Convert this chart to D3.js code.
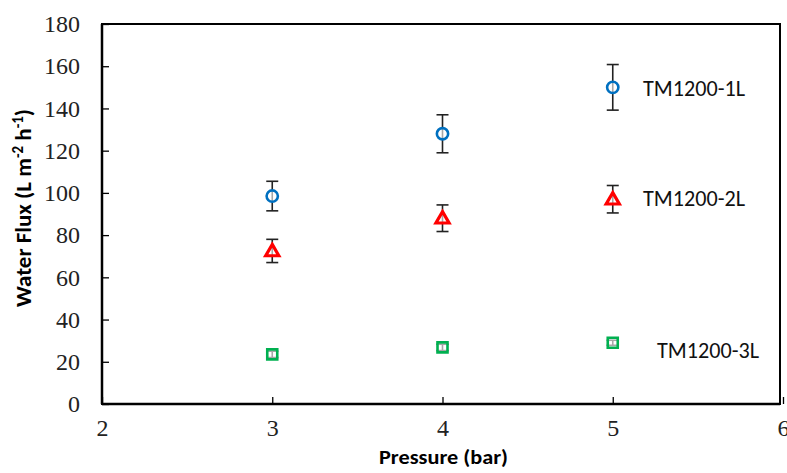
<!DOCTYPE html>
<html>
<head>
<meta charset="utf-8">
<script src="https://cdn.jsdelivr.net/npm/d3@7"></script>
<style>
  body { margin: 0; background: #fff; }
  svg { display: block; }
</style>
</head>
<body>
<div id="chart"></div>
<script>
// data
const pressures = [3, 4, 5];
const seriesNames = ["TM1200-1L", "TM1200-2L", "TM1200-3L"];
const flux1L = [98.5, 128, 150];
const err1L = [7, 9, 10.8];
const flux2L = [72.5, 88, 97];
const err2L = [5.5, 6.3, 6.5];
const flux3L = [23.5, 26.8, 29];
const err3L = [1.5, 1.5, 1.2];
const xTicks = [2, 3, 4, 5, 6];
const yTicks = [0, 20, 40, 60, 80, 100, 120, 140, 160, 180];

const width = 787, height = 473;
const margin = {top: 24, right: 4, bottom: 69, left: 102};
const serif = "'Liberation Serif', 'Times New Roman', serif";
const sans = "Carlito, 'Open Sans', sans-serif";

const svg = d3.select("#chart").append("svg")
  .attr("width", width)
  .attr("height", height);

const x = d3.scaleLinear().domain([2, 6]).range([margin.left, 783]);
const y = d3.scaleLinear().domain([0, 180]).range([height - margin.bottom, margin.top]);

// frame
svg.append("rect")
  .attr("x", x(2)).attr("y", y(180))
  .attr("width", 780 - x(2)).attr("height", y(0) - y(180))
  .attr("fill", "none").attr("stroke", "#000").attr("stroke-width", 2);

// axes, ticks pointing inward
svg.append("g")
  .attr("transform", `translate(0,${y(0)})`)
  .call(d3.axisBottom(x).tickValues(xTicks).tickSize(-7).tickPadding(15).tickFormat(d3.format("d")))
  .call(g => g.select(".domain").remove())
  .call(g => g.selectAll("line").attr("stroke", "#000").attr("stroke-width", 1.3))
  .call(g => g.selectAll("text").style("font-family", serif).style("font-size", "24px").attr("fill", "#222"));

svg.append("g")
  .attr("transform", `translate(${x(2)},0)`)
  .call(d3.axisLeft(y).tickValues(yTicks).tickSize(-7).tickPadding(22))
  .call(g => g.select(".domain").remove())
  .call(g => g.selectAll("line").attr("stroke", "#000").attr("stroke-width", 1.3))
  .call(g => g.selectAll("text").style("font-family", serif).style("font-size", "24px").attr("fill", "#222"));

// redraw the left and bottom spines on top of ticks
svg.append("line").attr("x1", x(2)).attr("x2", x(2)).attr("y1", y(0)).attr("y2", y(180))
  .attr("stroke", "#000").attr("stroke-width", 2.5);
svg.append("line").attr("x1", x(2)).attr("x2", 780).attr("y1", y(0)).attr("y2", y(0))
  .attr("stroke", "#000").attr("stroke-width", 2.5);

// axis titles
svg.append("text")
  .attr("x", x(4) + 1).attr("y", 464)
  .attr("text-anchor", "middle")
  .style("font-family", sans).style("font-weight", "bold").style("font-size", "21px")
  .attr("textLength", 129).attr("lengthAdjust", "spacingAndGlyphs")
  .text("Pressure (bar)");

const yl = svg.append("text")
  .attr("transform", `translate(31,${(y(0) + y(180)) / 2 - 6}) rotate(-90)`)
  .attr("text-anchor", "middle")
  .style("font-family", sans).style("font-weight", "bold").style("font-size", "23px");
yl.append("tspan").text("Water Flux (L m");
yl.append("tspan").attr("dy", -8).style("font-size", "15px").text("-2");
yl.append("tspan").attr("dy", 8).text(" h");
yl.append("tspan").attr("dy", -8).style("font-size", "15px").text("-1");
yl.append("tspan").attr("dy", 8).text(")");

const series = [
  {name: seriesNames[0], vals: flux1L, errs: err1L, color: "#0070c0", shape: d3.symbolCircle, size: 100, lx: 643, ly: 96},
  {name: seriesNames[1], vals: flux2L, errs: err2L, color: "#ff0000", shape: d3.symbolTriangle, size: 75, lx: 643, ly: 206},
  {name: seriesNames[2], vals: flux3L, errs: err3L, color: "#00b050", shape: d3.symbolSquare, size: 100, lx: 657, ly: 358}
];

series.forEach(s => {
  const g = svg.append("g");
  const pts = pressures.map((p, i) => ({p: p, v: s.vals[i], e: s.errs[i]}));

  // error bars
  const eb = g.selectAll(".eb").data(pts).enter().append("g")
    .attr("stroke", "#222").attr("stroke-width", 1.6);
  eb.append("line")
    .attr("x1", d => x(d.p)).attr("x2", d => x(d.p))
    .attr("y1", d => y(d.v + d.e)).attr("y2", d => y(d.v - d.e));
  eb.append("line")
    .attr("x1", d => x(d.p) - 6).attr("x2", d => x(d.p) + 6)
    .attr("y1", d => y(d.v + d.e)).attr("y2", d => y(d.v + d.e));
  eb.append("line")
    .attr("x1", d => x(d.p) - 6).attr("x2", d => x(d.p) + 6)
    .attr("y1", d => y(d.v - d.e)).attr("y2", d => y(d.v - d.e));

  // markers
  g.selectAll(".mk").data(pts).enter().append("path")
    .attr("d", d3.symbol().type(s.shape).size(s.size))
    .attr("transform", d => `translate(${x(d.p)},${y(d.v) + (s.shape === d3.symbolTriangle ? 1 : 0)})`)
    .attr("fill", "#fff")
    .attr("fill-opacity", 0.6)
    .attr("stroke", s.color)
    .attr("stroke-width", s.shape === d3.symbolTriangle ? 3.2 : 2.6);

  // label
  svg.append("text")
    .attr("x", s.lx).attr("y", s.ly)
    .style("font-family", sans).style("font-size", "22px").attr("fill", "#111")
    .attr("textLength", 102).attr("lengthAdjust", "spacingAndGlyphs")
    .text(s.name);
});
</script>
</body>
</html>
